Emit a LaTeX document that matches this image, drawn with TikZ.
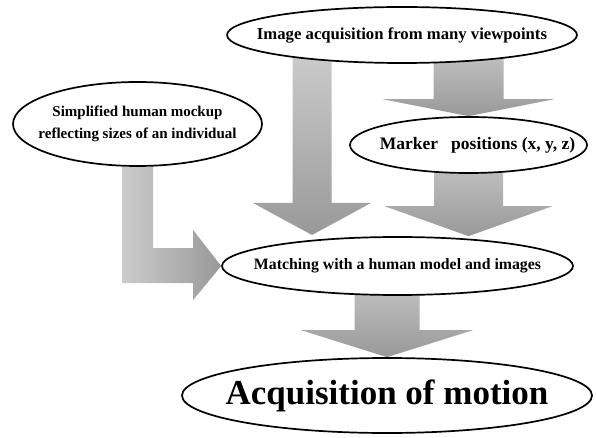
\documentclass[tikz,border=0pt]{standalone}
\usepackage{fontspec}
\setmainfont{Liberation Serif}
\usepackage{tikz}
\usetikzlibrary{shapes.geometric,backgrounds,calc}

% block arrow pointing down: #1 start, #2 tip, #3 half shaft, #4 half head, #5 head length
\newcommand{\downblock}[5]{%
  \path[block] let \p1=(#1), \p2=(#2) in
    (\x2-#3,\y1) -- (\x2+#3,\y1) -- (\x2+#3,\y2+#5) -- (\x2+#4,\y2+#5)
    -- (\x2,\y2) -- (\x2-#4,\y2+#5) -- (\x2-#3,\y2+#5) -- cycle;}

\begin{document}
\begin{tikzpicture}[x=1pt,y=-1pt,
                    oval/.style={ellipse,draw,line width=1.7pt,fill=white,inner sep=0pt},
                    block/.style={top color=gray!40,bottom color=gray!80},
                    sideblock/.style={left color=gray!40,right color=gray!80},
                    txt/.style={font=\bfseries\fontsize{#1}{22}\selectfont,align=center}]
  \useasboundingbox (0,0) rectangle (596,438);

  \node[oval,minimum width=350pt,minimum height=56pt,
        label={[txt=16.7]center:Image acquisition from many viewpoints}] (img) at (402,35) {};
  \node[oval,minimum width=249pt,minimum height=84pt,
        label={[txt=15]center:Simplified human mockup\\reflecting sizes of an individual}] (simp) at (137.5,124) {};
  \node[oval,minimum width=237pt,minimum height=56pt,
        label={[txt=17.5,xshift=9pt]center:Marker~~~positions (x, y, z)}] (marker) at (468.5,145) {};
  \node[oval,minimum width=351pt,minimum height=58pt,
        label={[txt=15.8]center:Matching with a human model and images}] (match) at (397.5,266) {};
  \node[oval,minimum width=410pt,minimum height=75pt,
        label={[txt=35]center:Acquisition of motion}] (acq) at (387,395.5) {};

  % tails start inside the ovals, tips end on their borders
  \coordinate (longtop) at (312,50);
  \coordinate (longtip) at (312,235);

  \begin{scope}[on background layer]
    \downblock{longtop}{longtip}{19.5pt}{59pt}{32pt}
    \downblock{img.center}{marker.north}{35pt}{86pt}{17pt}
    \downblock{marker.center}{match.north -| marker.north}{34.5pt}{84pt}{30pt}
    \downblock{match.center}{acq.north}{32.5pt}{86pt}{27pt}
    % bent arrow from the mockup to the matching step
    \path[sideblock]
      let \p1=(simp.south), \p2=(match.west) in
      (\x1-15.5pt,\y1) -- (\x1+15.5pt,\y1) -- (\x1+15.5pt,\y2+18pt)
      -- (\x2-28pt,\y2+18pt) -- (\x2-28pt,\y2+36pt) -- (\x2,\y2)
      -- (\x2-28pt,\y2-34pt) -- (\x2-28pt,\y2-17pt) -- (\x1-15.5pt,\y2-17pt) -- cycle;
  \end{scope}
\end{tikzpicture}
\end{document}
